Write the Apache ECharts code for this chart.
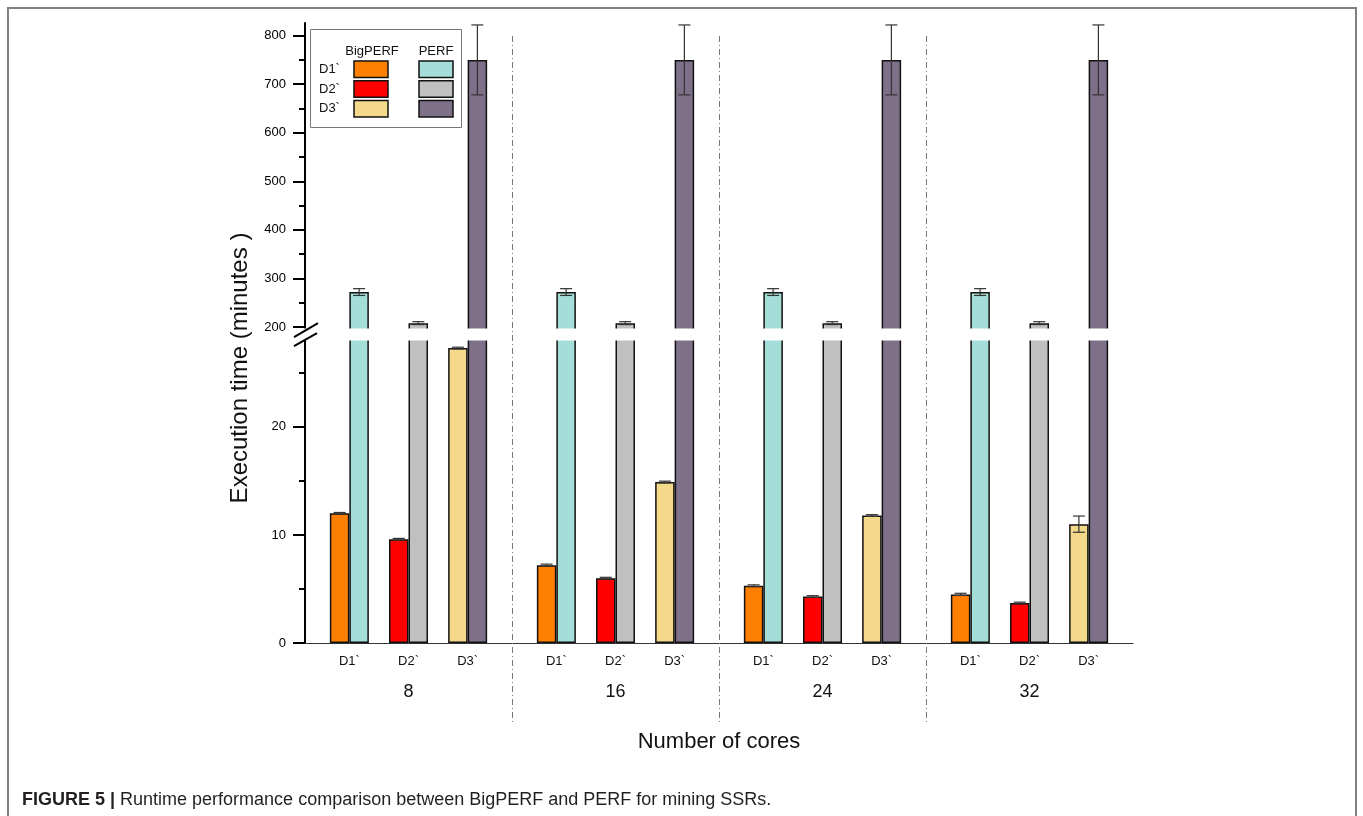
<!DOCTYPE html>
<html lang="en">
<head>
    <meta charset="UTF-8">
    <title>BigPERF vs PERF</title>
    <style>
        html, body { margin: 0; padding: 0; background: #fff; }
        #main { width: 1363px; height: 816px; }
    </style>
</head>
<body>
<div id="main"></div>
<script src="https://cdn.jsdelivr.net/npm/echarts@6/dist/echarts.min.js"></script>
<script>
    const cores = ['8', '16', '24', '32'];
    const sets = ['D1`', 'D2`', 'D3`'];

    // BigPERF (minutes), one value per core count
    const bigD1 = [12.0, 7.2, 5.3, 4.5];
    const bigD2 = [9.6, 6.0, 4.3, 3.7];
    const bigD3 = [27.3, 14.9, 11.8, 11.0];
    const bigErrD1 = [0.08, 0.1, 0.08, 0.1];
    const bigErrD2 = [0.08, 0.08, 0.08, 0.08];
    const bigErrD3 = [0.08, 0.08, 0.08, 0.75];

    // PERF (minutes)
    const perfD1 = [272, 272, 272, 272];
    const perfD2 = [208, 208, 208, 208];
    const perfD3 = [750, 750, 750, 750];
    const perfErrD1 = [7, 7, 7, 7];
    const perfErrD2 = [3, 3, 3, 3];
    const perfErrD3 = [72, 72, 72, 72];

    // axis ticks, lower and upper part of the broken axis
    const lowTicks = [0, 10, 20];
    const lowMinor = [5, 15, 25];
    const upTicks = [200, 300, 400, 500, 600, 700, 800];
    const upMinor = [250, 350, 450, 550, 650, 750];

    const bigColors = ['#ff8000', '#ff0000', '#f5d98b'];
    const perfColors = ['#a4ded8', '#c0c0c0', '#7f708a'];

    const FONT = 'Arial, "Liberation Sans", sans-serif';
    const BW = 19.5;
    const L = 305, R = 1363 - 1133;
    const slotsPerGroup = 7;
    const slotOf = [1, 3, 5];

    const slots = [];
    cores.forEach(c => {
        for (let s = 0; s < slotsPerGroup; s++) {
            const k = slotOf.indexOf(s);
            slots.push(c + '|' + s + '|' + (k >= 0 ? sets[k] : ''));
        }
    });

    const bigVals = [bigD1, bigD2, bigD3];
    const bigErrs = [bigErrD1, bigErrD2, bigErrD3];
    const perfVals = [perfD1, perfD2, perfD3];
    const perfErrs = [perfErrD1, perfErrD2, perfErrD3];

    function barData(vals, colors) {
        const out = [];
        cores.forEach((c, g) => {
            for (let s = 0; s < slotsPerGroup; s++) {
                const k = slotOf.indexOf(s);
                out.push(k < 0 || !vals ? '-' : {value: vals[k][g], itemStyle: {color: colors[k]}});
            }
        });
        return out;
    }
    function errData(vals, errs, side) {
        const out = [];
        cores.forEach((c, g) => slotOf.forEach((s, k) => {
            out.push([g * slotsPerGroup + s, vals[k][g], errs[k][g], side]);
        }));
        return out;
    }
    function renderErr(params, api) {
        const x = api.value(0), v = api.value(1), e = api.value(2), side = api.value(3);
        const top = api.coord([x, v + e]);
        const bot = api.coord([x, v - e]);
        const cx = top[0] + side * BW / 2;
        const cap = 6;
        const st = {stroke: '#333', lineWidth: 1.2};
        return {
            type: 'group',
            children: [
                {type: 'line', shape: {x1: cx, y1: top[1], x2: cx, y2: bot[1]}, style: st},
                {type: 'line', shape: {x1: cx - cap, y1: top[1], x2: cx + cap, y2: top[1]}, style: st},
                {type: 'line', shape: {x1: cx - cap, y1: bot[1], x2: cx + cap, y2: bot[1]}, style: st}
            ]
        };
    }

    const tickStyle = {color: '#000', width: 2};
    function mainY(grid, min, max, ticks) {
        return {
            type: 'value', gridIndex: grid, position: 'left', min, max,
            axisLine: {show: true, lineStyle: {color: '#000', width: 2}},
            axisTick: {show: true, customValues: ticks, length: 12, lineStyle: tickStyle},
            axisLabel: {show: true, customValues: ticks, margin: 19, color: '#000', fontSize: 13, fontFamily: FONT},
            splitLine: {show: false}
        };
    }
    function minorY(grid, min, max, ticks) {
        return {
            type: 'value', gridIndex: grid, position: 'left', min, max,
            axisLine: {show: false},
            axisTick: {show: true, customValues: ticks, length: 6, lineStyle: tickStyle},
            axisLabel: {show: false},
            splitLine: {show: false}
        };
    }

    const chart = echarts.init(document.getElementById('main'));

    const option = {
        animation: false,
        grid: [
            {left: L, right: R, top: 334, bottom: 816 - 643},   // lower part
            {left: L, right: R, top: 23, bottom: 816 - 334.3},  // upper part
            {left: L, right: R, top: 36, bottom: 816 - 723}     // group dividers
        ],
        xAxis: [
            {
                type: 'category', gridIndex: 0, position: 'bottom', data: slots,
                axisLine: {lineStyle: {color: '#333', width: 1}},
                axisTick: {show: false},
                axisLabel: {interval: 0, margin: 12, color: '#111', fontSize: 13, fontFamily: FONT,
                    formatter: v => v.split('|')[2]}
            },
            {
                type: 'category', gridIndex: 0, position: 'bottom', data: cores,
                axisLine: {show: false}, axisTick: {show: false},
                axisLabel: {margin: 40, color: '#111', fontSize: 18, fontFamily: FONT},
                name: 'Number of cores', nameLocation: 'middle', nameGap: 88,
                nameTextStyle: {color: '#111', fontSize: 22, fontFamily: FONT}
            },
            {type: 'category', gridIndex: 1, position: 'bottom', data: slots, show: false},
            {
                type: 'category', gridIndex: 2, position: 'bottom', data: cores, z: 20,
                axisLine: {show: false}, axisTick: {show: false}, axisLabel: {show: false},
                splitLine: {
                    show: true, interval: 0, showMinLine: false, showMaxLine: false,
                    lineStyle: {color: '#777', width: 1, type: [6, 3, 1, 3]}
                }
            }
        ],
        yAxis: [
            mainY(0, 0, 28.6, lowTicks),
            minorY(0, 0, 28.6, lowMinor),
            mainY(1, 185, 826, upTicks),
            minorY(1, 185, 826, upMinor),
            {type: 'value', gridIndex: 2, show: false}
        ],
        series: [
            {
                type: 'bar', name: 'BigPERF', xAxisIndex: 0, yAxisIndex: 0,
                data: barData(bigVals, bigColors), barWidth: BW, barGap: '0%',
                itemStyle: {borderColor: '#111', borderWidth: 1.5}
            },
            {
                type: 'bar', name: 'PERF', xAxisIndex: 0, yAxisIndex: 0,
                data: barData(perfVals, perfColors), barWidth: BW, barGap: '0%',
                itemStyle: {borderColor: '#111', borderWidth: 1.5}
            },
            {
                type: 'bar', name: 'BigPERF', xAxisIndex: 2, yAxisIndex: 2,
                data: barData(null, bigColors), barWidth: BW, barGap: '0%'
            },
            {
                type: 'bar', name: 'PERF', xAxisIndex: 2, yAxisIndex: 2,
                data: barData(perfVals, perfColors), barWidth: BW, barGap: '0%',
                itemStyle: {borderColor: '#111', borderWidth: 1.5}
            },
            {
                type: 'custom', xAxisIndex: 0, yAxisIndex: 0, encode: {x: 0, y: 1}, z: 5,
                renderItem: renderErr, data: errData(bigVals, bigErrs, -1)
            },
            {
                type: 'custom', xAxisIndex: 2, yAxisIndex: 2, encode: {x: 0, y: 1}, z: 5,
                renderItem: renderErr, data: errData(perfVals, perfErrs, 1)
            }
        ]
    };

    chart.setOption(option);

    // axis break, legend and texts
    const yGapTop = chart.convertToPixel({yAxisIndex: 2}, 200);
    const yGapBot = chart.convertToPixel({yAxisIndex: 0}, 28);
    const graphic = [
        {
            type: 'polyline', z: 1, silent: true,
            shape: {points: [[8, 820], [8, 8], [1356, 8], [1356, 820]]},
            style: {stroke: '#808080', lineWidth: 2, fill: null}
        },
        {
            type: 'rect', z: 10,
            shape: {x: L - 16, y: yGapTop + 1.5, width: 1133 - L + 20, height: yGapBot - yGapTop - 1.5},
            style: {fill: '#fff'}
        },
        {type: 'line', z: 30, shape: {x1: L - 11, y1: yGapTop + 10, x2: L + 13, y2: yGapTop - 4}, style: {stroke: '#000', lineWidth: 2}},
        {type: 'line', z: 30, shape: {x1: L - 11, y1: yGapTop + 19, x2: L + 12, y2: yGapTop + 6}, style: {stroke: '#000', lineWidth: 2}},
        {
            type: 'text', z: 30, x: 240, y: 368, rotation: Math.PI / 2,
            style: {text: 'Execution time (minutes )', font: '24px ' + FONT, fill: '#111', align: 'center', verticalAlign: 'middle'}
        },
        {
            type: 'text', z: 30, x: 22, y: 800,
            style: {
                text: '{b|FIGURE 5 |} Runtime performance comparison between BigPERF and PERF for mining SSRs.',
                font: '18px ' + FONT, fill: '#231f20', verticalAlign: 'middle',
                rich: {b: {font: 'bold 18px ' + FONT, fill: '#231f20'}}
            }
        },
        {
            type: 'rect', z: 30, shape: {x: 310.5, y: 29.5, width: 151, height: 98},
            style: {fill: '#fff', stroke: '#777', lineWidth: 1}
        },
        {type: 'text', z: 31, x: 372, y: 51, style: {text: 'BigPERF', font: '13px ' + FONT, fill: '#111', align: 'center', verticalAlign: 'middle'}},
        {type: 'text', z: 31, x: 436, y: 51, style: {text: 'PERF', font: '13px ' + FONT, fill: '#111', align: 'center', verticalAlign: 'middle'}}
    ];
    sets.forEach((name, k) => {
        const y = 61 + k * 19.7;
        graphic.push(
            {type: 'text', z: 31, x: 319, y: y + 8.5, style: {text: name, font: '13px ' + FONT, fill: '#111', verticalAlign: 'middle'}},
            {type: 'rect', z: 31, shape: {x: 354, y, width: 34, height: 16.5}, style: {fill: bigColors[k], stroke: '#111', lineWidth: 1.5}},
            {type: 'rect', z: 31, shape: {x: 419, y, width: 34, height: 16.5}, style: {fill: perfColors[k], stroke: '#111', lineWidth: 1.5}}
        );
    });
    chart.setOption({graphic});
</script>
</body>
</html>
